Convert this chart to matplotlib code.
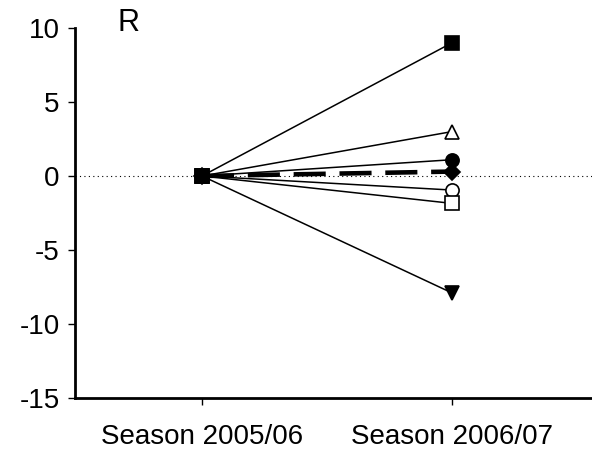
import numpy as np
import matplotlib.pyplot as plt

plt.rcParams['font.family'] = ['Liberation Sans', 'DejaVu Sans']
plt.rcParams['axes.unicode_minus'] = False

seasons = ["Season 2005/06", "Season 2006/07"]
start_vals = [0, 0, 0, 0, 0, 0, 0]
end_vals = [3, -0.95, -1.85, 9, 0.3, -7.9, 1.1]
markers = ["^", "o", "s", "s", "D", "v", "o"]
filled = [False, False, False, True, True, True, True]
dashed = [False, False, False, False, True, False, False]

fig = plt.figure(figsize=(5.92, 4.51), dpi=100)
ax = fig.add_axes([75/592, 53/451, 517/592, 370/451])

x = np.arange(len(seasons))
for s, e, m, f, d in zip(start_vals, end_vals, markers, filled, dashed):
    ms = 9.5 if m != "D" else 8.5
    ax.plot(x, [s, e], color="black",
            lw=3.3 if d else 1.1, ls=(0, (7, 3)) if d else "-",
            marker=m, ms=ms, markerfacecolor="black" if f else "white",
            markeredgecolor="black", markeredgewidth=1.2, zorder=3)

ax.axhline(0, color="black", lw=0.8, ls=(0, (1, 3)), zorder=1)

ax.set_xlim(-0.508, 1.56)
ax.set_ylim(-15, 10)
ax.set_yticks([-15, -10, -5, 0, 5, 10])
ax.set_xticks(x)
ax.set_xticklabels(seasons)
ax.tick_params(labelsize=20, width=1, length=5)
ax.tick_params(axis="x", pad=14)
ax.tick_params(axis="y", pad=6)
ax.spines["top"].set_visible(False)
ax.spines["right"].set_visible(False)
ax.spines["left"].set_linewidth(2)
ax.spines["bottom"].set_linewidth(2)

fig.text(129/592, 1 - 23/451, "R", fontsize=22, ha="center", va="center")

fig.savefig("out.png", dpi=100)
